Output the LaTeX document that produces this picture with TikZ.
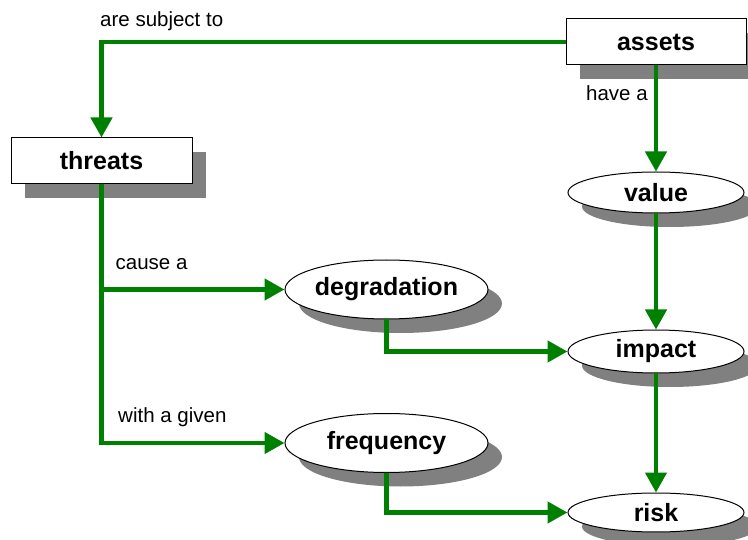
\documentclass[tikz,border=0pt]{standalone}
\usepackage{fontspec}
\setmainfont{Liberation Sans}
\usetikzlibrary{shapes.geometric,shadows,arrows.meta}
\definecolor{lgreen}{RGB}{0,128,0}
\definecolor{shgray}{RGB}{128,128,128}
\begin{document}
\begin{tikzpicture}[x=1pt,y=1pt,
  shad/.style={drop shadow={shadow xshift=14pt,shadow yshift=-14pt,fill=shgray,opacity=1}},
  boxnode/.style={draw=black,line width=1pt,fill=white,rectangle,inner sep=0pt,
    font=\fontsize{25}{30}\selectfont\bfseries,shad},
  ellnode/.style={draw=black,line width=1pt,fill=white,ellipse,inner sep=0pt,
    font=\fontsize{25}{30}\selectfont\bfseries,shad},
  conn/.style={draw=lgreen,line width=4.5pt,-{Triangle[length=20pt,width=21pt]}},
  lab/.style={anchor=base west,inner sep=0pt,font=\fontsize{20.5}{24}\selectfont}]
\clip (0,0) rectangle (748,-540);
\useasboundingbox (0,0) rectangle (748,-540);

\node[boxnode,minimum width=180pt,minimum height=46pt] (assets) at (656,-42) {assets};
\node[boxnode,minimum width=181pt,minimum height=46pt] (threats) at (101.5,-161) {threats};
\node[ellnode,minimum width=176pt,minimum height=41pt] (value) at (656,-192.5) {value};
\node[ellnode,minimum width=203pt,minimum height=59pt] (degradation) at (386.5,-289.5) {degradation};
\node[ellnode,minimum width=176pt,minimum height=43pt] (impact) at (656,-351.5) {impact};
\node[ellnode,minimum width=203pt,minimum height=59pt] (frequency) at (386.5,-443) {frequency};
\node[ellnode,minimum width=176pt,minimum height=39pt] (risk) at (656,-512.5) {risk};

\draw[conn] (assets.west) -| (threats.north);
\draw[conn] (assets.south) -- (value.north);
\draw[conn] (value.south) -- (impact.north);
\draw[conn] (impact.south) -- (risk.north);
\draw[conn] (threats.south) |- (degradation.west);
\draw[conn] (threats.south) |- (frequency.west);
\draw[conn] (degradation.south) |- (impact.west);
\draw[conn] (frequency.south) |- (risk.west);

\node[lab] (l1) at (100,-27) {are subject to};
\node[lab] (l2) at (586,-101) {have a};
\node[lab] (l3) at (115.5,-269.5) {cause a};
\node[lab] (l4) at (118,-423) {with a given};
\end{tikzpicture}
\end{document}
